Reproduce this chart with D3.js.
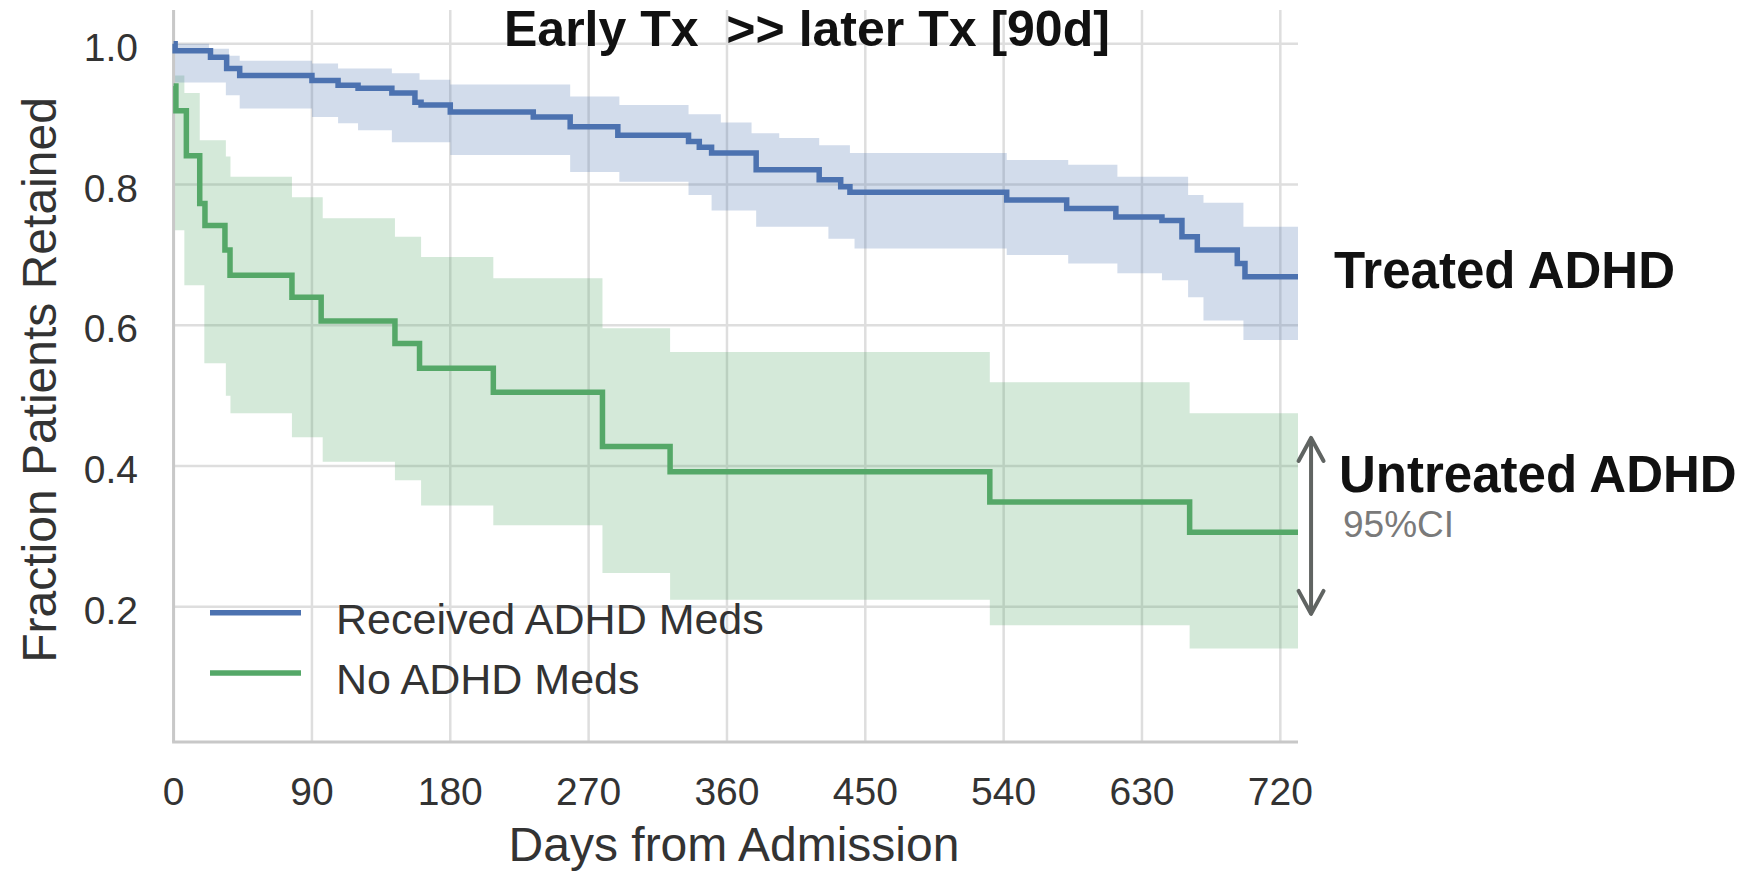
<!DOCTYPE html>
<html>
<head>
<meta charset="utf-8">
<script src="https://cdn.jsdelivr.net/npm/d3@7"></script>
<style>
  html, body { margin: 0; padding: 0; background: #fff; }
  svg { display: block; font-family: "Liberation Sans", Arial, sans-serif; }
</style>
</head>
<body>
<svg id="chart" width="1756" height="872"></svg>
<script>
// ---------------- data ----------------
const xTicks = [0, 90, 180, 270, 360, 450, 540, 630, 720];
const yTicks = [0.2, 0.4, 0.6, 0.8, 1.0];
const xMaxDay = 731.5;

// Received ADHD Meds (Kaplan-Meier step line)
const treatedDays = [0, 1, 24, 34.5, 43, 90, 107, 120, 142, 157, 161, 180, 234, 258, 289, 335, 342, 350, 379, 420, 434, 440, 542, 581, 613, 643, 656, 666, 692, 697];
const treatedSurv = [1.0, 0.990, 0.981, 0.965, 0.955, 0.948, 0.941, 0.937, 0.930, 0.917, 0.913, 0.903, 0.896, 0.882, 0.870, 0.861, 0.853, 0.845, 0.821, 0.807, 0.797, 0.789, 0.778, 0.766, 0.754, 0.749, 0.726, 0.707, 0.688, 0.669];
// its 95% CI band
const treatedBandDays = [0, 23, 34, 36, 43, 90, 107, 120, 142, 160, 180, 258, 290, 335, 350, 356, 376, 379, 394, 420, 426, 440, 443, 542, 582, 614, 643, 660, 670, 696];
const treatedUpper = [1.0, 0.993, 0.993, 0.983, 0.976, 0.972, 0.965, 0.965, 0.958, 0.949, 0.942, 0.925, 0.913, 0.90, 0.90, 0.888, 0.873, 0.873, 0.866, 0.856, 0.856, 0.845, 0.845, 0.835, 0.828, 0.811, 0.811, 0.785, 0.774, 0.740];
const treatedLower = [0.945, 0.945, 0.927, 0.927, 0.908, 0.896, 0.887, 0.877, 0.860, 0.860, 0.842, 0.818, 0.804, 0.785, 0.763, 0.763, 0.763, 0.740, 0.740, 0.740, 0.723, 0.723, 0.709, 0.700, 0.688, 0.674, 0.664, 0.640, 0.607, 0.579];

// No ADHD Meds
const untreatedDays = [0, 1.5, 8.3, 17, 20.4, 33.4, 36.7, 77, 96, 144, 160, 208, 279, 323, 531, 661];
const untreatedSurv = [0.94, 0.905, 0.841, 0.773, 0.742, 0.707, 0.671, 0.640, 0.606, 0.574, 0.539, 0.505, 0.428, 0.392, 0.349, 0.306];
const untreatedBandDays = [0, 7, 17, 20, 34, 37, 77, 97, 144, 161, 208, 279, 323, 531, 661];
const untreatedUpper = [0.955, 0.93, 0.863, 0.863, 0.84, 0.811, 0.782, 0.752, 0.726, 0.697, 0.667, 0.596, 0.562, 0.519, 0.475];
const untreatedLower = [0.735, 0.657, 0.657, 0.546, 0.50, 0.475, 0.441, 0.406, 0.380, 0.344, 0.316, 0.248, 0.21, 0.174, 0.141];

const seriesNames = ["Received ADHD Meds", "No ADHD Meds"];
const groupLabels = ["Treated ADHD", "Untreated ADHD"];
const titleText = "Early Tx  >> later Tx [90d]";
const ciLabel = "95%CI";
// CI arrow annotation (day, low, high)
const arrowDay = 740, arrowLow = 0.19, arrowHigh = 0.44;

// ---------------- layout ----------------
const colors = ["#4c72b0", "#55a868"];
const svg = d3.select("#chart");
const x = d3.scaleLinear().domain([0, xMaxDay]).range([173.6, 1298]);
const y = d3.scaleLinear().domain([0.008, 1.048]).range([742, 10]);
const [x0, x1] = x.range();
const [yB, yT] = y.range();

// grid
const grid = svg.append("g");
grid.selectAll("line.v").data(xTicks).join("line")
  .attr("x1", d => x(d)).attr("x2", d => x(d)).attr("y1", yT).attr("y2", yB)
  .attr("stroke", "#dedede").attr("stroke-width", 2.5);
grid.selectAll("line.h").data(yTicks).join("line")
  .attr("x1", x0).attr("x2", x1).attr("y1", d => y(d)).attr("y2", d => y(d))
  .attr("stroke", "#dedede").attr("stroke-width", 2.5);

// helpers
function stepPoints(days, vals) {
  const pts = days.map((d, i) => [d, vals[i]]);
  pts.push([xMaxDay, vals[vals.length - 1]]);
  return pts;
}
function bandPoints(days, lo, hi) {
  const pts = days.map((d, i) => ({d, lo: lo[i], hi: hi[i]}));
  pts.push({d: xMaxDay, lo: lo[lo.length - 1], hi: hi[hi.length - 1]});
  return pts;
}
const area = d3.area().curve(d3.curveStepAfter)
  .x(p => x(p.d)).y0(p => y(p.lo)).y1(p => y(p.hi));
const line = d3.line().curve(d3.curveStepAfter)
  .x(p => x(p[0])).y(p => y(p[1]));

// bands
svg.append("path").datum(bandPoints(untreatedBandDays, untreatedLower, untreatedUpper))
  .attr("d", area).attr("fill", colors[1]).attr("fill-opacity", 0.25);
svg.append("path").datum(bandPoints(treatedBandDays, treatedLower, treatedUpper))
  .attr("d", area).attr("fill", colors[0]).attr("fill-opacity", 0.25);

// spines
svg.append("line").attr("x1", x0).attr("x2", x0).attr("y1", yT).attr("y2", yB)
  .attr("stroke", "#c8c8c8").attr("stroke-width", 3);
svg.append("line").attr("x1", x0 - 1.5).attr("x2", x1).attr("y1", yB).attr("y2", yB)
  .attr("stroke", "#c8c8c8").attr("stroke-width", 3);

// lines
svg.append("path").datum(stepPoints(untreatedDays, untreatedSurv))
  .attr("d", line).attr("fill", "none").attr("stroke", colors[1]).attr("stroke-width", 5.5);
svg.append("path").datum(stepPoints(treatedDays, treatedSurv))
  .attr("d", line).attr("fill", "none").attr("stroke", colors[0]).attr("stroke-width", 5.5);

// tick labels
svg.append("g").selectAll("text").data(xTicks).join("text")
  .attr("x", d => x(d)).attr("y", 805).attr("text-anchor", "middle")
  .attr("font-size", 39).attr("fill", "#333").text(d => d);
svg.append("g").selectAll("text").data(yTicks).join("text")
  .attr("x", 138).attr("y", d => y(d) + 17).attr("text-anchor", "end")
  .attr("font-size", 39).attr("fill", "#333").text(d => d.toFixed(1));

// axis titles
svg.append("text").attr("x", 734).attr("y", 861).attr("text-anchor", "middle")
  .attr("font-size", 48).attr("fill", "#333").text("Days from Admission");
svg.append("text").attr("transform", "translate(56,380) rotate(-90)").attr("text-anchor", "middle")
  .attr("font-size", 48).attr("fill", "#333").text("Fraction Patients Retained");

// title
svg.append("text").attr("x", 504).attr("y", 46).attr("font-size", 50).attr("font-weight", "bold")
  .style("white-space", "pre").attr("fill", "#111").text(titleText);

// legend
const leg = svg.append("g");
seriesNames.forEach((name, i) => {
  const ly = 612.7 + i * 60.3;
  leg.append("line").attr("x1", 210).attr("x2", 301).attr("y1", ly).attr("y2", ly)
    .attr("stroke", colors[i]).attr("stroke-width", 5.5);
  leg.append("text").attr("x", 336).attr("y", ly + 21).attr("font-size", 43)
    .attr("fill", "#333").text(name);
});

// right-side annotations
svg.append("text").attr("x", 1334).attr("y", 288).attr("font-size", 51).attr("font-weight", "bold")
  .attr("fill", "#111").text(groupLabels[0]);
svg.append("text").attr("x", 1339).attr("y", 492).attr("font-size", 51).attr("font-weight", "bold")
  .attr("fill", "#111").text(groupLabels[1]);
svg.append("text").attr("x", 1343).attr("y", 537).attr("font-size", 37)
  .attr("fill", "#7a7a7a").text(ciLabel);

// CI arrow
const ax = x(arrowDay), aTop = y(arrowHigh), aBot = y(arrowLow);
const arrow = svg.append("g").attr("stroke", "#606462").attr("stroke-width", 4).attr("fill", "none")
  .attr("stroke-linecap", "round").attr("stroke-linejoin", "round");
arrow.append("line").attr("x1", ax).attr("x2", ax).attr("y1", aTop + 1).attr("y2", aBot - 1);
arrow.append("path").attr("d", `M${ax - 12.5},${aTop + 23} L${ax},${aTop} L${ax + 12.5},${aTop + 23}`);
arrow.append("path").attr("d", `M${ax - 12.5},${aBot - 23} L${ax},${aBot} L${ax + 12.5},${aBot - 23}`);
</script>
</body>
</html>
